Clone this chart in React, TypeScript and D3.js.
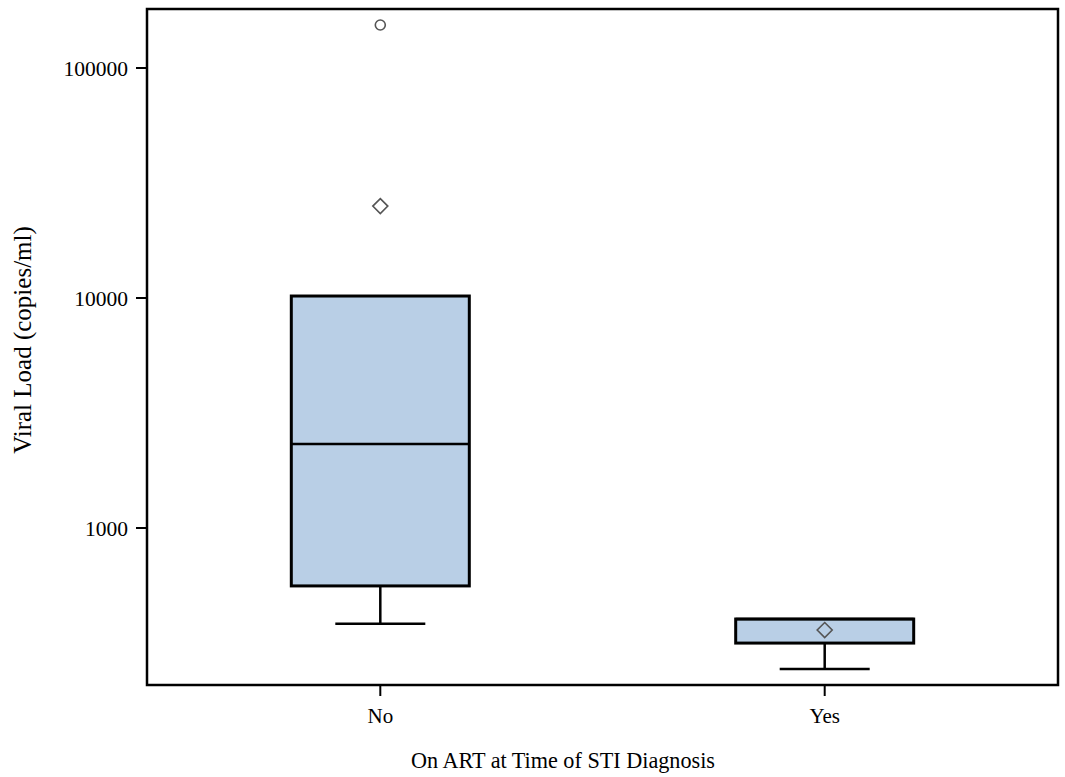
import React from 'react';
import { scaleLog, scalePoint } from 'd3';

// data
const groups = ['No', 'Yes'];
const q1 = [560, 316];
const median = [2317, 402];
const q3 = [10200, 402];
const whiskerLow = [383, 244];
const whiskerHigh = [10200, 402];
const means = [25100, 360];
const outliers = [[153800], []];
const yTicks = [1000, 10000, 100000];

const W = 1065;
const H = 777;
const left = 147, right = 1058, top = 9, bottom = 685;

export default function App() {
  const y = scaleLog().domain([207.7, 180500]).range([bottom, top]);
  const x = scalePoint().domain(groups).range([left, right]).padding(0.525);
  const boxW = 178;
  const capW = 90;

  return (
    <svg width={W} height={H} style={{ position: 'absolute', left: 0, top: 0, background: '#fff' }}>
      {groups.map((g, i) => {
        const cx = x(g);
        return (
          <g key={g}>
            <line x1={cx} x2={cx} y1={y(q1[i])} y2={y(whiskerLow[i])} stroke="#000" strokeWidth={2.5} />
            <line x1={cx - capW / 2} x2={cx + capW / 2} y1={y(whiskerLow[i])} y2={y(whiskerLow[i])} stroke="#000" strokeWidth={2.5} />
            <line x1={cx} x2={cx} y1={y(q3[i])} y2={y(whiskerHigh[i])} stroke="#000" strokeWidth={2.5} />
            <rect x={cx - boxW / 2} y={y(q3[i])} width={boxW} height={y(q1[i]) - y(q3[i])}
              fill="#b9cfe6" stroke="#000" strokeWidth={3} />
            <line x1={cx - boxW / 2} x2={cx + boxW / 2} y1={y(median[i])} y2={y(median[i])} stroke="#000" strokeWidth={2.5} />
            <path d={`M${cx},${y(means[i]) - 7.5}L${cx + 7.5},${y(means[i])}L${cx},${y(means[i]) + 7.5}L${cx - 7.5},${y(means[i])}Z`}
              fill="none" stroke="#555" strokeWidth={1.6} />
            {outliers[i].map((v, k) => (
              <circle key={k} cx={cx} cy={y(v)} r={5} fill="none" stroke="#555" strokeWidth={1.6} />
            ))}
          </g>
        );
      })}

      <rect x={left} y={top} width={right - left} height={bottom - top} fill="none" stroke="#000" strokeWidth={2.5} />

      {yTicks.map(t => (
        <g key={t}>
          <line x1={left - 11} x2={left} y1={y(t)} y2={y(t)} stroke="#000" strokeWidth={2} />
          <text x={left - 19} y={y(t)} dy="0.36em" textAnchor="end"
            fontFamily="Liberation Serif" fontSize={21.5} fill="#000">{t}</text>
        </g>
      ))}

      {groups.map(g => (
        <g key={g}>
          <line x1={x(g)} x2={x(g)} y1={bottom} y2={bottom + 11} stroke="#000" strokeWidth={2} />
          <text x={x(g)} y={723} textAnchor="middle" fontFamily="Liberation Serif" fontSize={21} fill="#000">{g}</text>
        </g>
      ))}

      <text x={563} y={768} textAnchor="middle" fontFamily="Liberation Serif" fontSize={22.2} fill="#000">
        On ART at Time of STI Diagnosis
      </text>
      <text transform="translate(31,340) rotate(-90)" textAnchor="middle"
        fontFamily="Liberation Serif" fontSize={25} fill="#000">
        Viral Load (copies/ml)
      </text>
    </svg>
  );
}
